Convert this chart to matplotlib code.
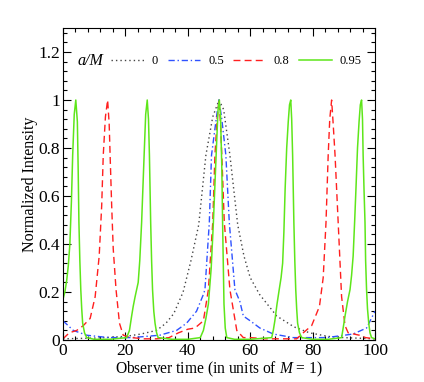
import numpy as np
import matplotlib
matplotlib.use("Agg")
import matplotlib.pyplot as plt
from matplotlib.ticker import MultipleLocator

plt.rcParams['font.family'] = ['Liberation Serif', 'DejaVu Serif']
plt.rcParams['mathtext.fontset'] = 'custom'
plt.rcParams['mathtext.rm'] = 'Liberation Serif'
plt.rcParams['mathtext.it'] = 'Liberation Serif:italic'

# spin a/M = 0 (dotted)
t_a0 = [0, 10, 20, 25, 30, 33, 35.5, 38.5, 41, 43.5, 45.8, 48, 50, 51.5, 53.5, 56,
        58, 60, 63, 68.5, 74, 79, 85, 90, 100]
i_a0 = [0.005, 0.008, 0.015, 0.025, 0.04, 0.07, 0.11, 0.2, 0.33, 0.48, 0.77, 0.93, 1.0,
        0.96, 0.77, 0.48, 0.35, 0.26, 0.19, 0.1, 0.055, 0.03, 0.015, 0.01, 0.005]

# a/M = 0.5 (dash-dot)
t_a05 = [0, 3.3, 7.6, 14.6, 22, 31, 36.4, 39.6, 42.8, 45, 45.5, 46.9, 47.6, 49.2, 50,
         50.9, 52.2, 53.3, 55.1, 56.7, 57.8, 60, 63.1, 67.4, 73.8, 84.5, 93, 97.3, 100]
i_a05 = [0.08, 0.04, 0.02, 0.01, 0.01, 0.02, 0.04, 0.07, 0.12, 0.19, 0.21, 0.49, 0.77,
         0.93, 1.0, 0.92, 0.77, 0.49, 0.21, 0.16, 0.1, 0.08, 0.05, 0.025, 0.01, 0.01,
         0.025, 0.05, 0.12]

# a/M = 0.8 (dashed)
t_a08 = [0, 2, 4.4, 6.5, 8.7, 10.3, 11.6, 12.4, 12.9, 13.6, 14.3, 14.8, 15.1, 15.6,
         16.1, 17, 18.1, 19.3, 22, 26, 30, 34, 37, 40, 42.3, 45, 46.6, 48, 48.7, 49.4,
         50, 50.5, 50.9, 51.7, 53.5, 55.7, 57.8, 60, 65, 70, 74.9, 77, 79.7, 82.2, 83.4,
         84.3, 85, 85.5, 86.1, 86.6, 87.2, 88.2, 89.3, 90.4, 91.4, 95, 97, 100]
i_a08 = [0.005, 0.03, 0.04, 0.06, 0.09, 0.18, 0.35, 0.56, 0.77, 0.93, 1.0, 0.9, 0.77,
         0.56, 0.38, 0.21, 0.07, 0.02, 0.01, 0.005, 0.005, 0.01, 0.03, 0.045, 0.05, 0.08,
         0.21, 0.49, 0.77, 0.92, 1.0, 0.9, 0.77, 0.49, 0.21, 0.04, 0.01, 0.01, 0.005,
         0.005, 0.005, 0.03, 0.06, 0.14, 0.26, 0.49, 0.77, 0.92, 1.0, 0.9, 0.77, 0.49,
         0.18, 0.06, 0.03, 0.02, 0.01, 0.005]

# a/M = 0.95 (solid)
t_a095 = [0, 0.6, 1.2, 1.7, 2.2, 2.7, 3.1, 3.6, 4.1, 4.6, 4.85, 5.1, 5.4, 5.7, 6.0, 6.3,
          6.9, 7.6, 10, 15,
          20.4, 21.3, 22.0, 22.5, 23.1, 23.6, 24.1, 24.6, 25.2, 25.6, 26.0, 26.5, 27.0,
          27.4, 27.7, 28.1, 28.4, 28.7, 29.1, 29.5, 30.0, 30.5, 35, 40,
          44, 45, 45.8, 46.6, 47.5, 48.2, 48.8, 49.3, 49.7, 50.1, 50.5, 50.9, 51.2, 51.6,
          52.0, 52.5, 55, 60,
          66.9, 67.4, 67.9, 68.6, 69.3, 69.9, 70.4, 70.8, 71.2, 71.7, 72.2, 72.6, 73.0,
          73.3, 73.6, 74.0, 74.3, 74.6, 74.9, 75.2, 75.8, 76.5, 80, 85,
          89.3, 89.8, 90.4, 91.2, 92.0, 92.5, 93.0, 93.5, 93.9, 94.4, 94.9, 95.3, 95.7,
          96.0, 96.2, 96.5, 96.8, 97.0, 97.3, 97.6, 98.0, 98.4, 98.9, 100]
i_a095 = [0.17, 0.2, 0.25, 0.31, 0.4, 0.58, 0.77, 0.94, 1.0, 0.91, 0.72, 0.49, 0.33, 0.21,
          0.13, 0.07, 0.03, 0.01, 0.003, 0.003,
          0.01, 0.04, 0.1, 0.14, 0.18, 0.21, 0.24, 0.33, 0.49, 0.63, 0.77, 0.94, 1.0,
          0.92, 0.77, 0.49, 0.33, 0.21, 0.12, 0.07, 0.03, 0.01, 0.003, 0.003,
          0.01, 0.04, 0.09, 0.15, 0.3, 0.49, 0.68, 0.84, 0.96, 1.0, 0.93, 0.72, 0.45, 0.15,
          0.05, 0.01, 0.003, 0.003,
          0.01, 0.04, 0.08, 0.15, 0.21, 0.26, 0.32, 0.45, 0.63, 0.8, 0.91, 0.98, 1.0,
          0.92, 0.77, 0.49, 0.33, 0.21, 0.13, 0.07, 0.03, 0.01, 0.003, 0.003,
          0.01, 0.05, 0.1, 0.16, 0.21, 0.27, 0.35, 0.5, 0.63, 0.8, 0.91, 0.98, 1.0,
          0.92, 0.77, 0.62, 0.49, 0.33, 0.21, 0.13, 0.07, 0.03, 0.01, 0.005]

labels = ['0', '0.5', '0.8', '0.95']

fig = plt.figure(figsize=(4.24, 3.82), dpi=100)
ax = fig.add_axes([0.1486, 0.1099, 0.7358, 0.8168])

ax.plot(t_a0, i_a0, color='#444444', lw=1.0, dashes=(1, 2.2), label=labels[0])
ax.plot(t_a05, i_a05, color='#2f52ff', lw=1.0, dashes=(4.5, 2, 1, 2), label=labels[1])
ax.plot(t_a08, i_a08, color='#ff1f1f', lw=1.0, dashes=(5, 3), label=labels[2])
ax.plot(t_a095, i_a095, color='#5ee61a', lw=1.1, label=labels[3])

ax.set_xlim(0, 100)
ax.set_ylim(0, 1.3)
ax.xaxis.set_major_locator(MultipleLocator(20))
ax.xaxis.set_minor_locator(MultipleLocator(4))
ax.yaxis.set_minor_locator(MultipleLocator(0.04))
ax.set_yticks([0, 0.2, 0.4, 0.6, 0.8, 1.0, 1.2])
ax.set_yticklabels(['0', '0.2', '0.4', '0.6', '0.8', '1', '1.2'])
ax.tick_params(which='both', direction='in', top=True, right=True, labelsize=12.5, pad=2)
ax.tick_params(which='major', length=6, width=0.8)
ax.tick_params(which='minor', length=3, width=0.8)

ax.set_xlabel('Observer time (in units of $M$ = 1)', fontsize=11.2, labelpad=1)
ax.set_ylabel('Normalized Intensity', fontsize=11.5, labelpad=0)

ax.text(0.045, 0.894, 'a/M', transform=ax.transAxes, fontsize=11.5, style='italic',
        va='center', ha='left')
leg = ax.legend(loc='center left', bbox_to_anchor=(0.155, 0.894), ncol=4, frameon=False,
                fontsize=9, handlelength=2.6, handletextpad=0.65, columnspacing=0.75,
                borderpad=0, borderaxespad=0)

fig.savefig('out.png', dpi=100)
